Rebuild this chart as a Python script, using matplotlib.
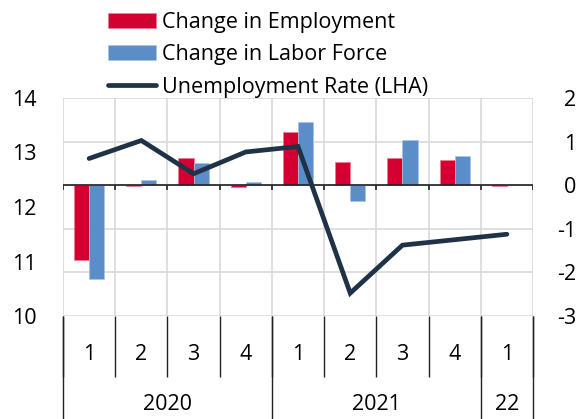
# Employment, labor force and unemployment rate by quarter
import numpy as np
import matplotlib
matplotlib.use('Agg')
import matplotlib.pyplot as plt
import matplotlib.transforms as mtransforms

plt.rcParams['font.family'] = ['Open Sans', 'DejaVu Sans']
plt.rcParams['axes.unicode_minus'] = False

quarters = ['1', '2', '3', '4', '1', '2', '3', '4', '1']
years = ['2020', '2021', '22']
year_sizes = [4, 4, 1]
employment = [-1.72, -0.01, 0.63, -0.04, 1.23, 0.53, 0.63, 0.58, -0.02]
labor_force = [-2.16, 0.11, 0.50, 0.08, 1.44, -0.37, 1.04, 0.67, 0.0]
unemp_rate = [12.89, 13.22, 12.61, 13.01, 13.11, 10.42, 11.30, 11.40, 11.50]

red = '#D50032'
blue = '#5B8DC8'
navy = '#1F3248'
grid_c = '#D9D9D9'
fs = 15.5

fig = plt.figure(figsize=(5.8, 4.19), dpi=100)
ax = fig.add_axes([63/580, 103/419, 470/580, 218/419])
x = np.arange(len(quarters))
w = 0.29

# bars on the right-hand scale
ax.bar(x - w/2, employment, w, color=red, edgecolor='#F07A90', linewidth=0.5,
       label='Change in Employment', zorder=3)
ax.bar(x + w/2, labor_force, w, color=blue, edgecolor='#A9C4E6', linewidth=0.5,
       label='Change in Labor Force', zorder=3)
ax.set_xlim(-0.5, len(quarters) - 0.5)
ax.set_ylim(-3, 2)
ax.set_yticks([-3, -2, -1, 0, 1, 2])
ax.set_xticks([])
ax.grid(axis='y', color=grid_c, linewidth=1.2, zorder=0)
for s in ax.spines.values():
    s.set_visible(False)

bounds = np.arange(len(quarters) + 1) - 0.5
ax.vlines(bounds, -3, 2, color=grid_c, linewidth=1.2, zorder=0)
ax.axhline(0, color='#222222', linewidth=1.2, zorder=4)
ax.vlines(bounds, -0.11, 0, color='#222222', linewidth=1.2, zorder=4)

# line on the left-hand scale
ax2 = ax.twinx()
ax2.plot(x, unemp_rate, color=navy, linewidth=3.4, solid_capstyle='round',
         solid_joinstyle='miter', label='Unemployment Rate (LHA)', zorder=5)
ax2.set_ylim(10, 14)
ax2.set_yticks([10, 11, 12, 13, 14])
ax2.yaxis.tick_left()
ax2.tick_params(axis='y', length=0, pad=19, labelsize=fs)
for s in ax2.spines.values():
    s.set_visible(False)

ax.yaxis.tick_right()
ax.yaxis.set_label_position('right')
ax.tick_params(axis='y', length=0, pad=31, labelsize=fs, left=False,
               labelleft=False, right=True, labelright=True)
for lab in ax.get_yticklabels():
    lab.set_horizontalalignment('right')

# two-level category axis
tr = mtransforms.blended_transform_factory(ax.transData, ax.transAxes)
for xi, q in zip(x, quarters):
    ax.text(xi, -0.175, q, transform=tr, ha='center', va='center', fontsize=fs)
ax.vlines(bounds, -0.28, 0, transform=tr, color='#222222', linewidth=1.0,
          clip_on=False)
start = 0
ybounds = [bounds[0]]
for yr, n in zip(years, year_sizes):
    ax.text(start + (n - 1) / 2, -0.405, yr, transform=tr, ha='center',
            va='center', fontsize=fs)
    start += n
    ybounds.append(bounds[start])
ax.vlines(ybounds, -0.5, 0, transform=tr, color='#222222', linewidth=1.0,
          clip_on=False)

h1, l1 = ax.get_legend_handles_labels()
h2, l2 = ax2.get_legend_handles_labels()
fig.legend(h1 + h2, l1 + l2, loc='upper left', bbox_to_anchor=(97/580, 0.997),
           frameon=False, fontsize=fs, handlelength=2.25, handleheight=0.7,
           handletextpad=0.25, labelspacing=0.53, borderpad=0)

fig.savefig('out.png', dpi=100)
